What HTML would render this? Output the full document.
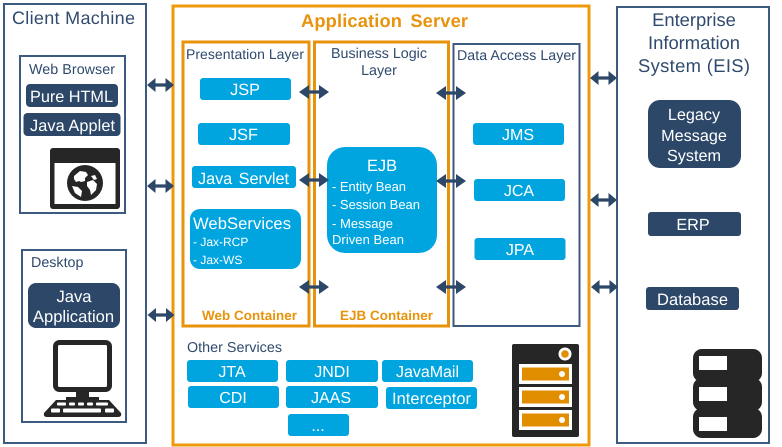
<!DOCTYPE html>
<html><head><meta charset="utf-8"><style>
html,body{margin:0;padding:0;background:#fff;width:782px;height:447px;overflow:hidden}
svg{display:block;filter:blur(.35px)}
text{font-family:"Liberation Sans",sans-serif;text-rendering:geometricPrecision}
.n{fill:#2f4a6d}
.w{fill:#fff}
.o{fill:#e8930c;font-weight:bold}
.c{fill:#00a5e0}
.d{fill:#2c4768}
.k{fill:#262626}
.m{text-anchor:middle}
</style></head><body>
<svg width="782" height="447" viewBox="0 0 782 447" xmlns="http://www.w3.org/2000/svg">
<defs>
<g id="a"><path d="M0 0L10 -7V-1.600H20V-7L30 0L20 7V1.600H10V7Z" fill="#2c4768"/></g>
<g id="b"><path d="M0 0L8.500 -7V-1.600H18.500V-7L27 0L18.500 7V1.600H8.500V7Z" fill="#2c4768"/></g>
</defs>

<!-- outer boxes -->
<rect x="4" y="4" width="142" height="439" fill="none" stroke="#3d5a80" stroke-width="2"/>
<rect x="20" y="56" width="105" height="157" fill="none" stroke="#3d5a80" stroke-width="2"/>
<rect x="22" y="250" width="104" height="172" fill="none" stroke="#3d5a80" stroke-width="2"/>
<rect x="173" y="6" width="416" height="439" fill="none" stroke="#ee9a0c" stroke-width="3"/>
<rect x="183" y="42" width="126" height="284" fill="none" stroke="#e8930c" stroke-width="3"/>
<rect x="314.500" y="42" width="134" height="284" fill="none" stroke="#e8930c" stroke-width="3"/>
<rect x="453.500" y="44" width="126" height="282" fill="none" stroke="#3d5a80" stroke-width="2"/>
<rect x="617" y="7" width="152" height="436" fill="none" stroke="#3d5a80" stroke-width="2"/>

<!-- client -->
<text class="n" x="12" y="24" font-size="18" textLength="123">Client Machine</text>
<text class="n" x="29" y="74" font-size="14.300" textLength="86">Web Browser</text>
<rect class="d" x="26" y="84" width="92" height="23" rx="4"/>
<text class="w" x="30" y="102" font-size="16.300" textLength="83">Pure HTML</text>
<rect class="d" x="23.500" y="113" width="97" height="23" rx="4"/>
<text class="w" x="30" y="131" font-size="16.300" textLength="85">Java Applet</text>

<rect class="k" x="50" y="148" width="70" height="61" rx="3"/>
<rect class="w" x="54.500" y="163" width="61" height="41"/>
<circle class="k" cx="85" cy="183" r="18"/>
<path class="w" d="M74 176l6-5 6 1 2 3-3 3 0 3-4 1-2-1-3 1-2-3zM91 176l4-1 2 4-3 1zM87 182l6-2 4 4-1 6-5 5-1-5-3-4zM72 186l6 1 4 4-1 6-6-4z"/>

<text class="n" x="31" y="267" font-size="14.300">Desktop</text>
<rect class="d" x="28" y="283" width="92" height="45" rx="8"/>
<text class="w m" x="74" y="302" font-size="16.600">Java</text>
<text class="w m" x="73.500" y="322" font-size="16.600">Application</text>

<rect x="55.500" y="342.500" width="54" height="47" rx="4" fill="#fff" stroke="#262626" stroke-width="5"/>
<path class="k" d="M76 391h13v6h10v4H66v-4h10z"/>
<path class="k" d="M56 400h53l12 13q1 4-3 4H47q-4 0-3-4z"/>
<g fill="#fff">
<rect x="57" y="402.500" width="9" height="3" rx="1"/><rect x="69" y="402.500" width="6" height="3" rx="1"/><rect x="78" y="402.500" width="6" height="3" rx="1"/><rect x="87" y="402.500" width="6" height="3" rx="1"/><rect x="96" y="402.500" width="12" height="3" rx="1"/>
<rect x="51" y="408.500" width="9" height="4" rx="1"/><rect x="63" y="408.500" width="38" height="4" rx="1"/><rect x="105" y="408.500" width="9" height="4" rx="1"/>
</g>

<!-- App server -->
<text class="o" x="301" y="27" font-size="18.300" word-spacing="3" textLength="167">Application Server</text>
<text class="n" x="186" y="59" font-size="14" textLength="118">Presentation Layer</text>
<text class="n" x="331" y="58" font-size="14.300" textLength="96">Business Logic</text>
<text class="n m" x="379" y="75" font-size="14.300">Layer</text>
<text class="n" x="457" y="60" font-size="14.200" textLength="119">Data Access Layer</text>

<rect class="c" x="200" y="78" width="91" height="22" rx="3"/>
<text class="w m" x="245" y="95" font-size="16.300">JSP</text>
<rect class="c" x="198" y="123" width="92" height="22" rx="3"/>
<text class="w m" x="243.500" y="140" font-size="16.300">JSF</text>
<rect class="c" x="192" y="166" width="104" height="22" rx="3"/>
<text class="w" x="198" y="184" font-size="16.300" word-spacing="2" textLength="91">Java Servlet</text>
<rect class="c" x="190" y="209" width="111" height="60" rx="10"/>
<text class="w" x="193" y="229" font-size="16.600" textLength="98">WebServices</text>
<text class="w" x="193" y="246" font-size="12">- Jax-RCP</text>
<text class="w" x="193" y="264" font-size="12">- Jax-WS</text>

<rect class="c" x="327" y="147" width="110" height="106" rx="18"/>
<text class="w" x="367" y="171" font-size="16.400">EJB</text>
<text class="w" x="332" y="191" font-size="13" textLength="74">- Entity Bean</text>
<text class="w" x="332" y="209" font-size="13" textLength="88">- Session Bean</text>
<text class="w" x="332" y="228" font-size="13" textLength="61">- Message</text>
<text class="w" x="332" y="244" font-size="13" textLength="72">Driven Bean</text>

<rect class="c" x="473" y="123" width="91" height="22" rx="3"/>
<text class="w m" x="518" y="140" font-size="16">JMS</text>
<rect class="c" x="474" y="179" width="91" height="22" rx="3"/>
<text class="w m" x="519" y="196" font-size="16">JCA</text>
<rect class="c" x="474.500" y="238" width="91" height="22" rx="3"/>
<text class="w m" x="520" y="255" font-size="16">JPA</text>

<text class="o" x="202" y="320" font-size="13.400" textLength="95">Web Container</text>
<text class="o" x="340" y="320" font-size="13.400" textLength="93">EJB Container</text>

<!-- other services -->
<text class="n" x="187" y="352" font-size="14.300" textLength="95">Other Services</text>
<rect class="c" x="187" y="360" width="91" height="22" rx="3"/>
<text class="w m" x="232" y="377" font-size="16">JTA</text>
<rect class="c" x="286" y="360" width="92" height="22" rx="3"/>
<text class="w m" x="332" y="377" font-size="16">JNDI</text>
<rect class="c" x="382" y="360" width="91" height="22" rx="3"/>
<text class="w" x="396" y="377" font-size="16" textLength="63">JavaMail</text>
<rect class="c" x="188" y="386" width="91" height="22" rx="3"/>
<text class="w m" x="233" y="403" font-size="16">CDI</text>
<rect class="c" x="286" y="386" width="92" height="22" rx="3"/>
<text class="w m" x="331" y="403" font-size="16">JAAS</text>
<rect class="c" x="386" y="387" width="91" height="22" rx="3"/>
<text class="w" x="392" y="404" font-size="16.400" textLength="79">Interceptor</text>
<rect class="c" x="288" y="414" width="61" height="22" rx="3"/>
<text class="w m" x="318" y="431" font-size="16">...</text>

<!-- server icon -->
<rect class="k" x="512" y="344" width="67" height="93" rx="2"/>
<circle cx="565" cy="354" r="6.500" fill="#fff"/><circle cx="565" cy="354" r="3.800" fill="#e08e00"/>
<g fill="#fff">
<rect x="519" y="364" width="53" height="20"/><rect x="519" y="387" width="53" height="20"/><rect x="519" y="410" width="53" height="20"/>
</g>
<g fill="#e08e00">
<rect x="522" y="367.500" width="47" height="13"/><rect x="522" y="390.500" width="47" height="13"/><rect x="522" y="413.500" width="47" height="13"/>
</g>
<g fill="#fff"><circle cx="562" cy="374" r="3"/><circle cx="562" cy="397" r="3"/><circle cx="562" cy="420" r="3"/></g>

<!-- EIS -->
<text class="n m" x="694" y="26" font-size="18.400">Enterprise</text>
<text class="n m" x="694" y="49" font-size="18.400">Information</text>
<text class="n" x="638" y="72" font-size="18.400" textLength="112">System (EIS)</text>
<rect class="d" x="648" y="100" width="93" height="68" rx="12"/>
<text class="w m" x="694" y="120" font-size="16.200">Legacy</text>
<text class="w m" x="694" y="141" font-size="16.200">Message</text>
<text class="w m" x="694" y="161" font-size="16.200">System</text>
<rect class="d" x="648" y="212" width="93" height="24" rx="3"/>
<text class="w m" x="693" y="230" font-size="16.200">ERP</text>
<rect class="d" x="646" y="287" width="93" height="23" rx="3"/>
<text class="w" x="657" y="305" font-size="16.500" textLength="71">Database</text>

<!-- DB icon -->
<g class="k">
<rect x="693" y="349" width="69" height="33" rx="9"/>
<rect x="693" y="378" width="69" height="33" rx="9"/>
<rect x="693" y="408" width="69" height="30" rx="9"/>
<rect x="710" y="360" width="44" height="68"/>
</g>
<g fill="#fff">
<rect x="699" y="356" width="28" height="14"/><rect x="699" y="387" width="28" height="14"/><rect x="699" y="417" width="28" height="14"/>
</g>

<!-- arrows -->
<use href="#b" x="147" y="85"/>
<use href="#b" x="147" y="186"/>
<use href="#b" x="147.500" y="315"/>
<use href="#a" x="299" y="92"/>
<use href="#a" x="299" y="180"/>
<use href="#a" x="299" y="287"/>
<use href="#a" x="436" y="93"/>
<use href="#a" x="436" y="181"/>
<use href="#a" x="436" y="287"/>
<use href="#b" x="590" y="78"/>
<use href="#b" x="590" y="200"/>
<use href="#b" x="591" y="287"/>
</svg>
</body></html>
